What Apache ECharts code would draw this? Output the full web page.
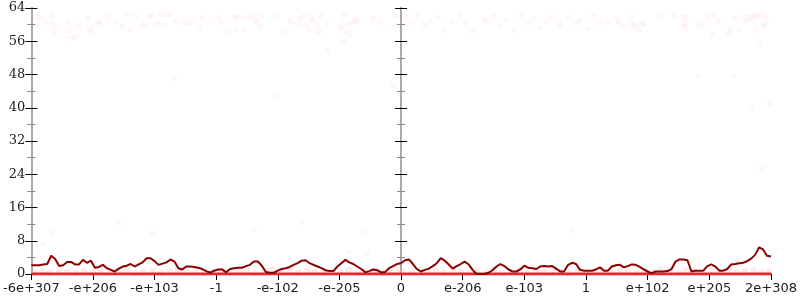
<!DOCTYPE html>
<html><head><meta charset="utf-8">
<script src="https://cdn.jsdelivr.net/npm/echarts@6/dist/echarts.min.js"></script>
<style>html,body{margin:0;padding:0;background:#fff}#c{width:800px;height:300px}</style>
</head><body><div id="c"></div>
<script>
// tick labels
const leftTicks = ['-6e+307','-e+206','-e+103','-1','-e-102','-e-205','0'];
const rightTicks = ['','e-206','e-103','1','e+102','e+205','2e+308'];
const yTicks = [0,8,16,24,32,40,48,56,64];

// main dark line, evenly sampled across each panel
const leftLine = [2.1,2.1,2.1,2.3,2.4,4.4,3.6,1.9,2.1,2.9,2.9,2.3,2.3,3.4,2.7,3.2,1.5,1.7,2.2,1.4,1.0,0.6,1.3,1.8,2.0,2.4,1.8,2.3,2.8,3.8,3.8,3.1,2.2,2.5,2.8,3.5,3.0,1.4,1.1,1.8,1.8,1.7,1.5,1.2,0.7,0.3,0.8,1.1,1.1,0.4,1.2,1.4,1.5,1.5,1.9,2.2,3.0,3.0,2.0,0.5,0.3,0.3,0.8,1.2,1.4,1.7,2.2,2.6,3.2,3.3,2.6,2.2,1.8,1.4,0.9,0.7,0.7,1.8,2.6,3.4,2.8,2.4,1.8,1.2,0.4,0.7,1.1,0.9,0.4,0.5,1.4,1.9,2.4,2.6];
const rightLine = [2.6,3.3,3.5,2.4,1.2,0.6,1.0,1.3,1.9,2.6,3.8,3.2,2.3,1.3,1.9,2.4,3.0,2.3,1.0,0.0,0.0,0.0,0.3,0.9,1.8,2.4,1.9,1.1,0.6,0.6,1.1,2.0,1.5,1.4,1.2,1.8,1.9,1.8,1.9,1.3,0.6,0.6,2.2,2.7,2.4,1.0,0.8,0.8,0.8,1.1,1.6,0.8,0.8,1.8,2.1,2.2,1.6,1.9,2.3,2.2,1.7,1.1,0.6,0.2,0.6,0.6,0.6,0.7,1.2,3.0,3.5,3.5,3.3,0.6,0.8,0.8,0.8,1.9,2.3,1.8,0.8,0.8,1.2,2.3,2.4,2.6,2.7,3.1,3.7,4.6,6.4,5.9,4.4,4.2];

// baseline values
const zeroLine = [[0,0],[6,0]];

// faint scatter points [x, y]
const leftDots = [[0.08,61.9],[0.13,61.7],[0.11,59.8],[0.24,60.7],[0.34,62.2],[0.35,60.2],[0.37,58.1],[0.42,59.3],[0.6,60.7],[0.63,58.6],[0.64,56.6],[0.71,57.1],[0.76,59.8],[0.92,61.4],[0.95,59.0],[0.97,58.3],[1.08,60.7],[1.11,60.2],[1.24,61.9],[1.37,60.5],[1.48,59.5],[1.53,62.4],[1.61,58.8],[1.69,62.2],[1.8,60.2],[1.85,59.5],[1.91,61.9],[1.96,62.2],[2.04,60.2],[2.12,62.6],[2.17,60.0],[2.24,62.4],[2.33,61.0],[2.48,60.5],[2.56,60.5],[2.64,61.2],[2.73,59.0],[2.77,61.7],[3.02,61.7],[3.07,60.5],[3.3,61.7],[3.36,61.7],[3.49,61.7],[3.57,61.9],[3.62,61.2],[3.67,60.5],[3.72,62.2],[3.18,58.3],[3.31,58.8],[3.46,58.8],[3.73,59.5],[3.99,61.9],[4.12,58.1],[4.21,61.0],[4.31,60.0],[4.36,61.4],[4.41,61.9],[4.46,59.8],[4.52,58.8],[4.54,61.7],[4.57,61.0],[4.63,60.0],[4.67,58.3],[4.7,62.2],[4.78,60.5],[4.81,53.8],[5.0,59.3],[5.1,58.6],[5.05,60.0],[5.15,60.0],[5.21,60.5],[5.26,60.7],[5.31,61.0],[5.08,62.4],[5.07,56.2],[5.16,57.8],[5.55,61.4],[5.66,60.5],[5.89,59.8],[5.92,61.9],[5.87,45.4],[2.32,47.0],[3.96,43.0],[1.43,12.2],[0.34,9.8],[0.19,7.2],[1.96,9.8],[3.62,10.8],[4.38,12.5],[5.39,10.1],[5.16,5.3],[5.45,5.0],
[0.05,0.4],[0.18,0.8],[0.3,0.3],[0.45,0.9],[0.58,0.5],[0.72,0.2],[0.85,0.7],[1.0,0.4],[1.12,1.0],[1.27,0.3],[1.4,0.6],[1.55,0.9],[1.68,0.2],[1.82,0.5],[1.97,0.8],[2.1,0.3],[2.25,0.6],[2.38,1.0],[2.52,0.4],[2.66,0.7],[2.8,0.2],[2.93,0.5],[3.08,0.9],[3.22,0.3],[3.35,0.6],[3.5,0.8],[3.63,0.2],[3.78,0.5],[3.9,1.0],[4.05,0.4],[4.2,0.7],[4.33,0.3],[4.48,0.9],[4.6,0.5],[4.75,0.2],[4.88,0.7],[5.02,0.4],[5.15,0.9],[5.3,0.3],[5.43,0.6],[5.57,0.8],[5.7,0.2],[5.84,0.5],[5.96,0.7]];
const rightDots = [[0.06,61.9],[0.18,60.5],[0.27,62.2],[0.39,59.8],[0.48,61.0],[0.6,61.7],[0.69,58.6],[0.82,60.7],[0.95,62.4],[1.05,60.2],[1.16,58.3],[1.34,61.4],[1.39,60.7],[1.5,62.0],[1.6,59.8],[1.71,61.2],[1.84,58.6],[1.95,62.2],[2.05,60.5],[2.16,61.4],[2.26,59.3],[2.37,60.7],[2.45,62.0],[2.58,60.0],[2.72,61.7],[2.84,60.2],[2.9,61.0],[3.03,59.0],[3.12,62.0],[3.21,60.5],[3.34,60.7],[3.48,61.4],[3.53,60.7],[3.6,59.5],[3.74,61.9],[3.76,60.0],[3.79,59.8],[3.85,58.8],[3.9,60.2],[3.94,60.2],[4.21,62.2],[4.42,62.2],[4.58,61.9],[4.63,61.7],[4.6,60.2],[4.6,59.5],[4.82,59.5],[4.9,60.0],[4.98,61.9],[5.08,62.2],[5.15,61.0],[5.05,57.6],[5.42,61.4],[5.31,57.8],[5.34,58.8],[5.48,58.8],[5.56,61.9],[5.6,61.0],[5.66,61.7],[5.69,61.9],[5.74,61.9],[5.79,62.2],[5.84,62.4],[5.92,61.7],[5.9,60.2],[5.87,59.5],[5.77,58.6],[5.81,55.4],[4.82,47.5],[5.39,47.8],[0.03,43.4],[5.68,39.8],[5.84,25.4],[5.98,41.0],[2.77,10.6],
[0.04,0.6],[0.17,0.3],[0.31,0.9],[0.44,0.4],[0.57,0.7],[0.7,0.2],[0.84,1.0],[0.97,0.5],[1.11,0.3],[1.24,0.8],[1.38,0.4],[1.51,0.9],[1.65,0.2],[1.78,0.6],[1.92,0.8],[2.05,0.3],[2.19,0.7],[2.32,0.4],[2.46,1.0],[2.6,0.5],[2.73,0.2],[2.87,0.8],[3.0,0.4],[3.14,0.6],[3.27,0.9],[3.41,0.3],[3.55,0.7],[3.68,0.5],[3.82,0.2],[3.95,0.8],[4.09,0.4],[4.22,1.0],[4.36,0.6],[4.5,0.3],[4.63,0.8],[4.77,0.5],[4.9,0.2],[5.04,0.7],[5.18,0.4],[5.31,0.9],[5.45,0.3],[5.58,0.6],[5.72,0.8],[5.85,0.4],[5.97,0.6]];

const toXY = arr => arr.map((v,i)=>[i*6/(arr.length-1), v]);

const chart = echarts.init(document.getElementById('c'), null, {renderer:'canvas'});
const sans = 'DejaVu Sans', serif = 'DejaVu Serif';
function xAx(idx, labels){
  return {type:'value', gridIndex:idx, min:0, max:6, interval:1, position:'bottom',
    axisLine:{show:false}, splitLine:{show:false},
    axisTick:{show:true, length:6, lineStyle:{color:'#000', width:1}},
    axisLabel:{margin:8, fontFamily:sans, fontSize:13, color:'#222',
      formatter:v=>labels[Math.round(v)]}};
}
function topAx(idx){
  return {type:'value', gridIndex:idx, min:0, max:6, position:'top',
    axisLine:{show:true, lineStyle:{color:'#aaa', width:2}},
    axisTick:{show:false}, axisLabel:{show:false}, splitLine:{show:false}};
}
function yAx(idx, pos, labels){
  return {type:'value', gridIndex:idx, position:pos, min:0, max:64, interval:8,
    axisLine:{show:true, lineStyle:{color:'#aaa', width:2}},
    axisTick:{show:true, length:6, lineStyle:{color:'#000', width:1}},
    minorTick:{show:true, splitNumber:2, length:4, lineStyle:{color:'#888'}},
    splitLine:{show:false},
    axisLabel:{show:labels, margin:6, fontFamily:serif, fontSize:13, color:'#222'}};
}
const dotStyle = {color:'rgba(255,200,200,0.13)', borderColor:'rgba(250,150,150,0.12)', borderWidth:0.8};
const bandStyle = {color:'rgba(255,180,180,0.3)', borderColor:'rgba(250,150,150,0.2)', borderWidth:0.8};
const leftTop = leftDots.filter(d=>d[1]>=2), leftLow = leftDots.filter(d=>d[1]<2);
const rightTop = rightDots.filter(d=>d[1]>=2), rightLow = rightDots.filter(d=>d[1]<2);
chart.setOption({
  animation:false,
  grid:[{left:28, top:8, width:373, height:266},{left:401, top:8, width:372, height:266}],
  xAxis:[xAx(0,leftTicks), xAx(1,rightTicks), topAx(0), topAx(1)],
  yAxis:[yAx(0,'left',true), yAx(0,'right',false), yAx(1,'left',false), yAx(1,'right',false)],
  series:[
    {type:'scatter', xAxisIndex:0, yAxisIndex:0, data:leftTop, symbolSize:5, itemStyle:dotStyle, silent:true},
    {type:'scatter', xAxisIndex:1, yAxisIndex:2, data:rightTop, symbolSize:5, itemStyle:dotStyle, silent:true},
    {type:'scatter', xAxisIndex:0, yAxisIndex:0, data:leftLow, symbolSize:6, itemStyle:bandStyle, silent:true},
    {type:'scatter', xAxisIndex:1, yAxisIndex:2, data:rightLow, symbolSize:6, itemStyle:bandStyle, silent:true},
    {type:'line', xAxisIndex:0, yAxisIndex:0, data:zeroLine, showSymbol:false, lineStyle:{color:'#e8262e', width:3}},
    {type:'line', xAxisIndex:1, yAxisIndex:2, data:zeroLine, showSymbol:false, lineStyle:{color:'#e8262e', width:3}},
    {type:'line', xAxisIndex:0, yAxisIndex:0, data:toXY(leftLine), showSymbol:false, lineStyle:{color:'#8b0000', width:2}},
    {type:'line', xAxisIndex:1, yAxisIndex:2, data:toXY(rightLine), showSymbol:false, lineStyle:{color:'#8b0000', width:2}}
  ]
});
</script></body></html>
